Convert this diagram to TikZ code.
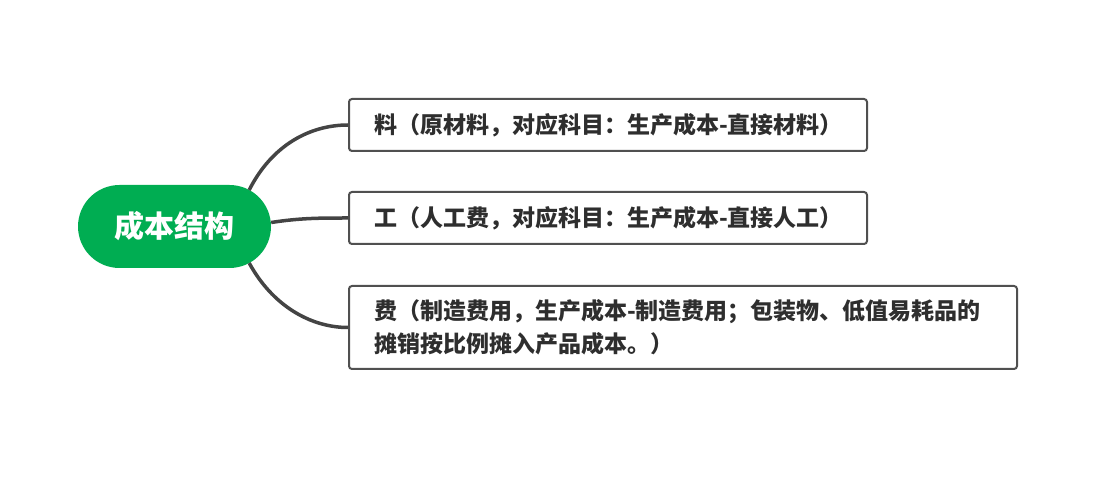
\documentclass[tikz,border=0pt]{standalone}
\usepackage{fontspec}
\setmainfont{Noto Sans CJK SC}
\definecolor{rootgreen}{HTML}{00AD52}
\definecolor{boxgray}{HTML}{505050}
\definecolor{textdark}{HTML}{2E2E2E}
\definecolor{linkgray}{HTML}{444444}
\begin{document}
\begin{tikzpicture}[x=1pt,y=-1pt,
  rootbox/.style={fill=rootgreen, rounded corners=41.5pt, minimum width=193pt,
    minimum height=83pt, inner sep=0pt, text=white,
    font=\fontsize{30}{32}\selectfont\bfseries},
  leafbox/.style={draw=boxgray, line width=2pt, fill=white, rounded corners=3pt,
    anchor=west, align=left, inner xsep=25pt, inner ysep=0pt, text=textdark,
    font=\fontsize{23}{33}\selectfont\bfseries},
  link/.style={draw=linkgray, line width=3.5pt}]
\useasboundingbox (0,0) rectangle (1096,486);
\node[rootbox] (root) at (174.5,226.5) {成本结构};
\node[leafbox, text width=468pt, minimum height=52pt] (b1) at (348,125)
  {\mbox{料（原材料，对应科目：生产成本-直接材料）}};
\node[leafbox, text width=468pt, minimum height=52pt] (b2) at (348,218)
  {\mbox{工（人工费，对应科目：生产成本-直接人工）}};
\node[leafbox, text width=618pt, minimum height=83pt] (b3) at (348,327.5)
  {\mbox{费（制造费用，生产成本-制造费用；包装物、低值易耗品的}\\\mbox{摊销按比例摊入产品成本。）}};
\draw[link] ([shift={(-22,-36.5)}]root.east) .. controls (272,145) and (310,125) .. (b1.west);
\draw[link] ([shift={(0,-4)}]root.east) .. controls (300,218) and (320,218) .. (b2.west);
\draw[link] ([shift={(-22,36.5)}]root.east) .. controls (272,305) and (310,327.5) .. (b3.west);
\end{tikzpicture}
\end{document}
